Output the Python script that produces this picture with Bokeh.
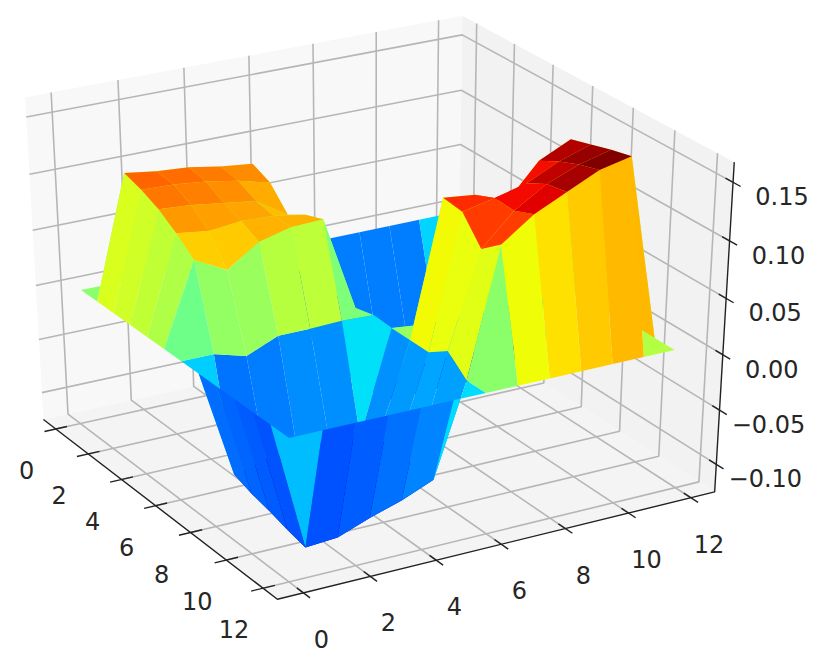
import numpy as np
from bokeh.plotting import figure
from bokeh.models import Range1d
from bokeh.core.properties import value
from bokeh.embed import file_html
from bokeh.resources import INLINE

x_ticks = [0, 2, 4, 6, 8, 10, 12]
y_ticks = [0, 2, 4, 6, 8, 10, 12]
z_ticks = [-0.10, -0.05, 0.0, 0.05, 0.10, 0.15]
z_labels = ["\u22120.10", "\u22120.05", "0.00", "0.05", "0.10", "0.15"]
grid_pos = [0.15, 1.125, 2.1, 3.075, 4.05, 5.025, 6.0, 6.975, 7.95, 8.925, 9.9, 10.875, 11.85]
L = -0.092
M = -0.05
z_rows = [
 [0,0,0,0,0,0,0,0,0,0,0,0,0],
 [0,.109,.105,.103,.098,.095,0,L,L,L,L,L,0],
 [0,.104,.103,.100,.095,.088,0,L,L,L,L,L,0],
 [0,.097,.095,.091,.087,.069,0,L,L,L,L,L,0],
 [0,.086,.082,.085,.084,.079,0,L,L,L,L,L,0],
 [0,.073,.058,.077,.084,.085,0,L,L,L,L,L,0],
 [0,0,-.008,.004,.004,.005,.004,M,M,M,M,M,0],
 [0,-.098,-.09,-.09,-.085,-.09,.003,0,0,0,0,0,0],
 [0,-.104,-.09,-.09,-.09,-.08,.003,.122,.119,.107,.137,.150,0],
 [0,-.108,-.09,-.09,-.09,-.08,.003,.120,.126,.133,.146,.155,0],
 [0,-.113,-.09,-.09,-.09,-.08,.015,.098,.125,.142,.153,.160,0],
 [0,-.117,-.115,-.104,-.095,-.083,0,.112,.132,.145,.158,.164,0],
 [0,0,0,0,0,0,0,0,0,0,0,0,0],
]
color_low, color_high = -0.114, 0.159
Z = np.array(z_rows, float)
G = np.array(grid_pos, float)
xl = (-0.77, 12.77); yl = (-0.77, 12.77); zl = (-0.1257, 0.167)
el, az, dist = 30, -30, 10

def P(pts):
    pts = np.asarray(pts, float)
    asp = np.array([4, 4, 4.0]); asp = asp*1.9/np.linalg.norm(asp)
    N = np.c_[(pts[:,0]-xl[0])/(xl[1]-xl[0]), (pts[:,1]-yl[0])/(yl[1]-yl[0]), (pts[:,2]-zl[0])/(zl[1]-zl[0])]
    d = (N-0.5)*asp
    e, a_ = np.radians(el), np.radians(az)
    w = np.array([np.cos(e)*np.cos(a_), np.cos(e)*np.sin(a_), np.sin(e)])
    u = np.cross([0,0,1], w); u /= np.linalg.norm(u)
    v = np.cross(w, u)
    depth = dist - d@w
    return (d@u)/depth, (d@v)/depth, depth

cal = [((xl[0],yl[0],zl[0]),(42,419)),((xl[1],yl[0],zl[0]),(275,598)),((xl[1],yl[1],zl[0]),(714,492)),
       ((xl[1],yl[1],zl[1]),(733,162)),((xl[0],yl[0],zl[1]),(26,97)),((xl[0],yl[1],zl[1]),(462,15)),
       ((xl[0],yl[1],0),(460,197)),((0,yl[0],zl[0]),(55,431)),((12,yl[0],zl[0]),(260,586)),
       ((xl[1],0,zl[0]),(307,592)),((xl[1],12,zl[0]),(688,499)),((xl[1],yl[1],.15),(734,181)),((xl[1],yl[1],-.1),(717,463))]
CP = np.array([c[0] for c in cal],float); CT = np.array([c[1] for c in cal],float)
px,py,_ = P(CP)
a = np.polyfit(px,CT[:,0],1); b = np.polyfit(py,CT[:,1],1)

W,H = 822,660
p = figure(width=W,height=H,output_backend="svg",toolbar_location=None,
           x_range=Range1d((0-a[1])/a[0],(W-a[1])/a[0]),
           y_range=Range1d((H-b[1])/b[0],(0-b[1])/b[0]),min_border=0)
p.axis.visible=False; p.grid.visible=False; p.outline_line_color=None
p.background_fill_color="white"

def poly(pts,color):
    x,y,_ = P(pts); p.patch(list(x),list(y),fill_color=color,line_color=None)
x0,x1 = xl; y0,y1 = yl; z0,z1 = zl
poly([(x0,y0,z0),(x0,y1,z0),(x0,y1,z1),(x0,y0,z1)],"#f8f8f8")
poly([(x0,y1,z0),(x1,y1,z0),(x1,y1,z1),(x0,y1,z1)],"#f2f2f2")
poly([(x0,y0,z0),(x1,y0,z0),(x1,y1,z0),(x0,y1,z0)],"#f4f4f4")
gx=[];gy=[]
def gl(pts):
    x,y,_ = P(pts); gx.append(list(x)); gy.append(list(y))
for t in x_ticks: gl([(t,y0,z0),(t,y1,z0),(t,y1,z1)])
for t in y_ticks: gl([(x1,t,z0),(x0,t,z0),(x0,t,z1)])
for t in z_ticks: gl([(x0,y0,t),(x0,y1,t),(x1,y1,t)])
p.multi_line(gx,gy,line_color="#b6b6b6",line_width=1.6)
ax=[];ay=[]
def al(pts):
    x,y,_ = P(pts); ax.append(list(x)); ay.append(list(y))
al([(x0,y0,z0),(x1,y0,z0),(x1,y1,z0),(x1,y1,z1)])
T=0.35
for t in x_ticks: al([(t,y0-T,z0),(t,y0+T,z0)])
for t in y_ticks: al([(x1-T,t,z0),(x1+T,t,z0)])
for t in z_ticks: al([(x1-T,y1,t),(x1+T,y1,t)])
p.multi_line(ax,ay,line_color="#222222",line_width=1.4)

def jet(t):
    t=min(max(t,0),1)
    r=np.interp(t,[0,.35,.66,.89,1],[0,0,1,1,.5])
    g=np.interp(t,[0,.125,.375,.64,.91,1],[0,0,1,1,0,0])
    bl=np.interp(t,[0,.11,.34,.65,1],[.5,1,1,0,0])
    return "#%02x%02x%02x"%(int(r*255),int(g*255),int(bl*255))
n=Z.shape[0]
fac=[]
for i in range(n-1):
    for j in range(n-1):
        pts=[(G[i],G[j],Z[i,j]),(G[i],G[j+1],Z[i,j+1]),(G[i+1],G[j+1],Z[i+1,j+1]),(G[i+1],G[j],Z[i+1,j])]
        x,y,d=P(pts)
        fac.append((d.mean(),list(x),list(y),np.mean([q[2] for q in pts])))
fac.sort(key=lambda f:-f[0])
p.patches([f[1] for f in fac],[f[2] for f in fac],
          fill_color=[jet((f[3]-color_low)/(color_high-color_low)) for f in fac],line_color=None)

def labels(pts,txt,dx,dy):
    x,y,_=P(pts)
    p.text(list(x),list(y),text=txt,x_offset=dx,y_offset=dy,text_align="center",text_baseline="middle",
           text_font=value("DejaVu Sans"),text_font_size="24px",text_color="#262626")
labels([(t,y0,z0) for t in x_ticks],[str(t) for t in x_ticks],-29,41)
labels([(x1,t,z0) for t in y_ticks],[str(t) for t in y_ticks],18,46)
labels([(x1,y1,t) for t in z_ticks],z_labels,49,14)
open("out.html","w").write(file_html(p,INLINE))
